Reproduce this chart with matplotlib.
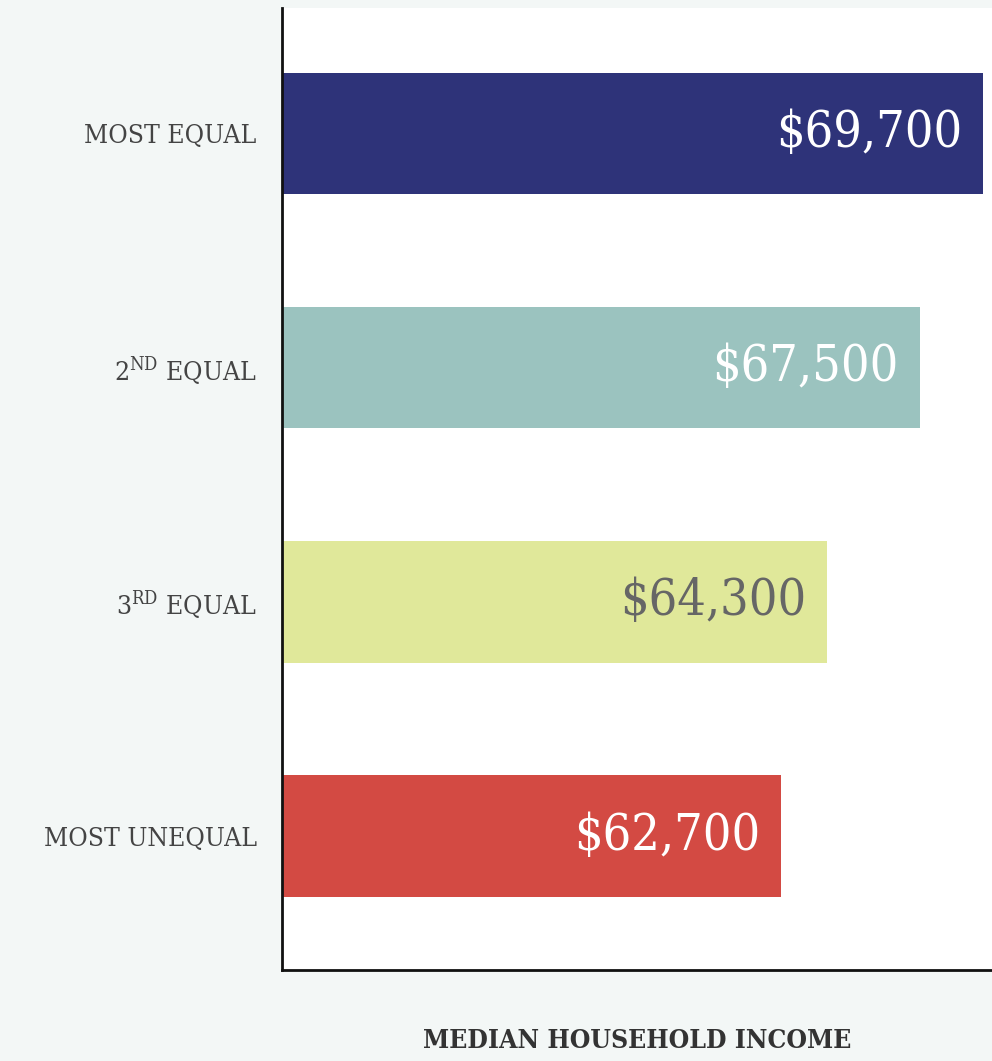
import matplotlib.pyplot as plt
import numpy as np

categories = ['MOST EQUAL', '2$^{\\mathregular{ND}}$ EQUAL', '3$^{\\mathregular{RD}}$ EQUAL', 'MOST UNEQUAL']
income = [69700, 67500, 64300, 62700]
labels = ['$69,700', '$67,500', '$64,300', '$62,700']
colors = ['#2e3379', '#9bc3bf', '#e0e89a', '#d34a43']
text_colors = ['white', 'white', '#666666', 'white']

plt.rcParams['font.family'] = ['DejaVu Serif']

fig = plt.figure(figsize=(9.92, 10.61), dpi=100, facecolor='#f3f7f6')
ax = fig.add_axes([0.284, 0.0858, 0.716, 0.9067])
ax.set_facecolor('white')

y = np.arange(len(categories))[::-1]
ax.barh(y, income, height=0.52, color=colors, left=0)

for yi, v, lab, tc in zip(y, income, labels, text_colors):
    ax.annotate(lab, (v, yi), xytext=(-15, 0), textcoords='offset points',
                ha='right', va='center', color=tc, fontsize=36,
                fontstretch='condensed')

ax.set_xlim(45400, 70000)
ax.set_ylim(-0.573, 3.536)
ax.set_yticks(y)
ax.set_yticklabels(categories, fontsize=19, color='#444444', fontstretch='condensed')
ax.set_xticks([])
ax.tick_params(axis='y', length=0, pad=18)

for s in ['top', 'right']:
    ax.spines[s].set_visible(False)
for s in ['left', 'bottom']:
    ax.spines[s].set_linewidth(2)
    ax.spines[s].set_color('#111111')

ax.set_xlabel('MEDIAN HOUSEHOLD INCOME', fontsize=19, fontweight='bold',
              color='#333333', labelpad=42, fontstretch='condensed')

plt.savefig('out.png', dpi=100, facecolor=fig.get_facecolor())
